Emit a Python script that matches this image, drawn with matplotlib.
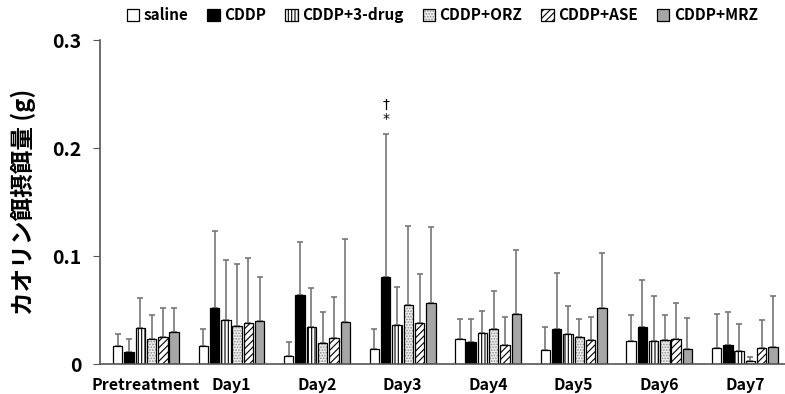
import matplotlib
matplotlib.use("Agg")
import matplotlib.pyplot as plt
import numpy as np

plt.rcParams['font.family'] = ['Noto Sans CJK JP', 'DejaVu Sans']
plt.rcParams['hatch.linewidth'] = 0.8

days = ['Pretreatment', 'Day1', 'Day2', 'Day3', 'Day4', 'Day5', 'Day6', 'Day7']
groups = ['saline', 'CDDP', 'CDDP+3-drug', 'CDDP+ORZ', 'CDDP+ASE', 'CDDP+MRZ']

# mean values (g)
saline = [0.0163, 0.0170, 0.0077, 0.0139, 0.0231, 0.0126, 0.0216, 0.0151]
cddp = [0.0114, 0.0519, 0.0639, 0.0806, 0.0204, 0.0327, 0.0340, 0.0173]
drug3 = [0.0336, 0.0404, 0.0345, 0.0361, 0.0287, 0.0278, 0.0210, 0.0117]
orz = [0.0230, 0.0352, 0.0194, 0.0546, 0.0324, 0.0253, 0.0222, 0.0024]
ase = [0.0253, 0.0380, 0.0240, 0.0380, 0.0176, 0.0222, 0.0231, 0.0151]
mrz = [0.0293, 0.0395, 0.0389, 0.0570, 0.0463, 0.0522, 0.0142, 0.0157]

# SD (upper error only)
saline_sd = [0.0115, 0.0157, 0.0123, 0.0188, 0.0186, 0.0220, 0.0241, 0.0312]
cddp_sd = [0.0114, 0.0714, 0.0491, 0.1327, 0.0213, 0.0519, 0.0435, 0.0305]
drug3_sd = [0.0274, 0.0559, 0.0359, 0.0352, 0.0207, 0.0259, 0.0416, 0.0256]
orz_sd = [0.0220, 0.0574, 0.0291, 0.0734, 0.0349, 0.0164, 0.0235, 0.0044]
ase_sd = [0.0267, 0.0607, 0.0377, 0.0450, 0.0259, 0.0210, 0.0331, 0.0259]
mrz_sd = [0.0222, 0.0411, 0.0771, 0.0695, 0.0597, 0.0508, 0.0281, 0.0473]

means = [saline, cddp, drug3, orz, ase, mrz]
sds = [saline_sd, cddp_sd, drug3_sd, orz_sd, ase_sd, mrz_sd]

faces = ['white', 'black', 'white', '#eeeeee', 'white', '#a6a6a6']
hatches = [None, None, '|||||', '......', '/////', None]
hatch_cols = ['black', 'black', 'black', '#8c8c8c', 'black', 'black']

fig = plt.figure(figsize=(7.85, 3.94), dpi=100)
ax = fig.add_axes([0.127, 0.076, 0.873, 0.822])

x = np.arange(len(days))
w = 0.11
step = 0.132
for i in range(6):
    pos = x + (i - 2.5) * step
    ax.errorbar(pos, means[i], yerr=[np.zeros(len(days)), sds[i]], fmt='none',
                ecolor='#777777', elinewidth=1.2, capsize=2.5, capthick=1.2, zorder=1)
    bars = ax.bar(pos, means[i], width=w, color=faces[i], edgecolor='black',
                  linewidth=0.9, hatch=hatches[i], label=groups[i], zorder=2)
    if hatches[i]:
        for b in bars:
            b._hatch_color = matplotlib.colors.to_rgba(hatch_cols[i])

# significance marks above Day3 CDDP
cpos = 3 + (1 - 2.5) * step
top = cddp[3] + cddp_sd[3]
ax.text(cpos, top + 0.007, '*', ha='center', va='bottom', fontsize=10, family=['DejaVu Sans'])
ax.text(cpos, top + 0.020, '†', ha='center', va='bottom', fontsize=10, family=['DejaVu Sans'])

ax.set_xlim(-0.54, 7.47)
ax.set_ylim(0, 0.3)
ax.set_yticks([0, 0.1, 0.2, 0.3])
ax.set_yticklabels(['0', '0.1', '0.2', '0.3'], fontsize=14, fontweight='bold')
ax.set_xticks(x)
ax.set_xticklabels(days, fontsize=11.5, fontweight='bold')
ax.tick_params(axis='x', length=0, pad=9)
ax.tick_params(axis='y', direction='out', length=5, color='#555555', pad=8)
ax.spines['top'].set_visible(False)
ax.spines['right'].set_visible(False)
ax.spines['left'].set_color('#555555')
ax.spines['bottom'].set_color('#555555')
ax.spines['left'].set_linewidth(1.2)
ax.spines['bottom'].set_linewidth(1.2)
ax.set_ylabel('カオリン餌摂餌量 (g)', fontsize=17, fontweight='bold', labelpad=12)

ax.legend(loc='lower center', bbox_to_anchor=(0.5, 1.01), ncol=6, frameon=False,
          prop={'weight': 'bold', 'size': 11}, handlelength=0.8, handleheight=0.8,
          handletextpad=0.3, columnspacing=1.25)

fig.savefig('out.png', dpi=100)
